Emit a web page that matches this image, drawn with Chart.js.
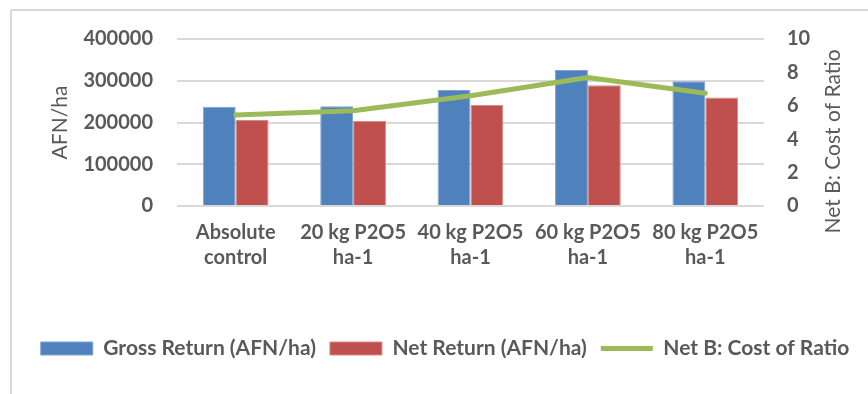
<!DOCTYPE html>
<html lang="en">
<head>
<meta charset="UTF-8">
<title>Gross and net return by P2O5 rate</title>
<script src="https://cdn.jsdelivr.net/npm/chart.js"></script>
<style>
    body { margin: 0; background: #fff; }
    #wrap { position: relative; width: 868px; height: 394px; overflow: hidden; }
    .frame { position: absolute; left: 10px; top: 9px; width: 900px; height: 420px; border: 2px solid #d9d9d9; }
    canvas { position: absolute; left: 0; top: 0; }
</style>
</head>
<body>
<div id="wrap">
    <div class="frame"></div>
    <canvas id="chart" width="868" height="394"></canvas>
</div>
<script>
const categories = [
    ['Absolute', 'control'],
    ['20 kg P2O5', 'ha-1'],
    ['40 kg P2O5', 'ha-1'],
    ['60 kg P2O5', 'ha-1'],
    ['80 kg P2O5', 'ha-1']
];
const grossReturn = [238000, 239000, 278000, 326000, 299000];
const netReturn = [206000, 204000, 242000, 289000, 260000];
const costRatio = [5.45, 5.7, 6.6, 7.7, 6.75];

const leftTicks = [0, 100000, 200000, 300000, 400000];
const rightTicks = [0, 2, 4, 6, 8, 10];
const leftTitle = 'AFN/ha';
const rightTitle = 'Net B: Cost of Ratio';

const grey = '#595959';
const tickFont = {family: 'Lato', size: 20, weight: 'bold'};

// right axis title reads bottom-to-top in the original, Chart.js turns it the other way
const rightTitlePlugin = {
    id: 'rightTitle',
    afterDraw(chart) {
        const c = chart.ctx;
        const s = chart.scales.y1;
        c.save();
        c.translate(s.right - 35, (chart.chartArea.top + chart.chartArea.bottom) / 2 + 19);
        c.rotate(-Math.PI / 2);
        c.font = '21px Lato';
        c.fillStyle = grey;
        c.textAlign = 'center';
        c.textBaseline = 'middle';
        c.fillText(rightTitle, 0, 0);
        c.restore();
    }
};

new Chart(document.getElementById('chart'), {
    type: 'bar',
    data: {
        labels: categories,
        datasets: [
            {label: 'Gross Return (AFN/ha)', data: grossReturn, backgroundColor: '#4F81BD', borderColor: '#7FA3CF', borderWidth: 1, pointStyle: 'rect', yAxisID: 'y', order: 1},
            {label: 'Net Return (AFN/ha)', data: netReturn, backgroundColor: '#C0504D', borderColor: '#D48A88', borderWidth: 1, pointStyle: 'rect', yAxisID: 'y', order: 1},
            {label: 'Net B: Cost of Ratio', type: 'line', data: costRatio, borderColor: '#9BBB59', backgroundColor: '#9BBB59',
             borderWidth: 5, borderCapStyle: 'round', pointRadius: 0, tension: 0, pointStyle: 'line', yAxisID: 'y1', order: 0}
        ]
    },
    options: {
        responsive: false,
        animation: false,
        categoryPercentage: 0.56,
        barPercentage: 1,
        layout: {padding: {left: 22, top: 39, right: 0, bottom: 25}},
        plugins: {
            tooltip: {enabled: false},
            legend: {
                position: 'bottom',
                labels: {
                    sort: (a, b) => a.datasetIndex - b.datasetIndex,
                    usePointStyle: true,
                    pointStyleWidth: 52,
                    boxHeight: 13,
                    padding: 14,
                    color: grey,
                    font: {family: 'Lato', size: 21, weight: 'bold'}
                }
            }
        },
        scales: {
            x: {
                grid: {display: false},
                border: {display: false},
                ticks: {color: grey, font: {family: 'Lato', size: 20, weight: 'bold', lineHeight: 1.25},
                        maxRotation: 0, minRotation: 0, autoSkip: false, padding: 6},
                afterFit(scale) { scale.height = 118; }
            },
            y: {
                position: 'left',
                min: 0, max: 400000,
                afterBuildTicks(scale) { scale.ticks = leftTicks.map(v => ({value: v})); },
                grid: {color: '#d9d9d9', lineWidth: 2, drawTicks: false},
                border: {display: false},
                ticks: {color: grey, font: tickFont, padding: 24, callback: v => String(v)},
                title: {display: true, text: leftTitle, color: grey, font: {family: 'Lato', size: 21}, padding: {top: 26, bottom: 0}},
                afterFit(scale) { scale.width = 155; }
            },
            y1: {
                position: 'right',
                min: 0, max: 10,
                afterBuildTicks(scale) { scale.ticks = rightTicks.map(v => ({value: v})); },
                grid: {display: false, drawTicks: false},
                border: {display: false},
                ticks: {color: grey, font: tickFont, padding: 23, callback: v => String(v)},
                afterFit(scale) { scale.width = 104; }
            }
        }
    },
    plugins: [rightTitlePlugin]
});
</script>
</body>
</html>
